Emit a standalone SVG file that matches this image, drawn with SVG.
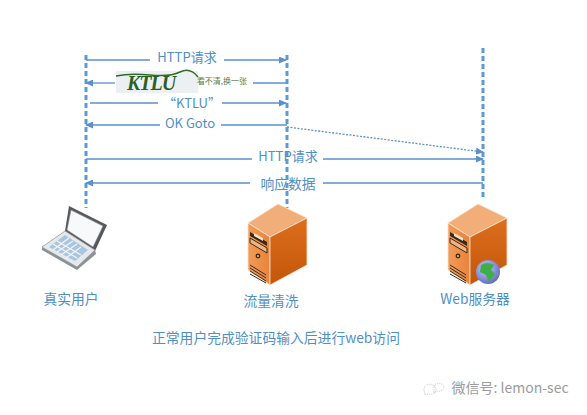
<svg xmlns="http://www.w3.org/2000/svg" width="587" height="415" viewBox="0 0 587 415">
<style>
text{font-family:"Noto Sans CJK SC","Liberation Sans",sans-serif;fill:#4f8fc4;font-size:13px;text-anchor:middle}
.big{font-size:13.8px}
.life{stroke:#5b9bd5;stroke-width:3;stroke-dasharray:5 3;fill:none}
.msg{stroke:#5b8fd0;stroke-width:1.3;fill:none}
.front{fill:url(#fr)}
.side{fill:url(#sd)}
.top{fill:#f2ae78;stroke:#fbe3cf;stroke-width:.8}
</style>
<defs>
<marker id="ah" markerWidth="8" markerHeight="7" refX="7" refY="3.5" orient="auto-start-reverse" markerUnits="userSpaceOnUse"><path d="M0 0L8 3.5L0 7Z" fill="#5b8fd0"/></marker>
<linearGradient id="fr" x1="0" y1="0" x2="1" y2="0"><stop offset="0" stop-color="#f29c58"/><stop offset="1" stop-color="#e8833a"/></linearGradient>
<linearGradient id="sd" x1="0" y1="0" x2="0" y2="1"><stop offset="0" stop-color="#dc6e1e"/><stop offset="1" stop-color="#c4560a"/></linearGradient>
<radialGradient id="gl" cx=".4" cy=".35" r=".7"><stop offset="0" stop-color="#c4cff8"/><stop offset="1" stop-color="#5f67bd"/></radialGradient>
<g id="tower">
<path class="top" d="M1 24L31 5L60 19L23 38Z"/>
<path class="front" d="M1 24L23 38V86L1 71Z" stroke="#fbe3cf" stroke-width=".8"/>
<path class="side" d="M23 38L60 19V66L23 86Z" stroke="#fbe3cf" stroke-width=".8"/>
<path d="M3 33L20 43V47L3 37Z" fill="#3a2a1c"/>
<path d="M7 34L16 39V42L7 37Z" fill="#f6e2cc"/>
<path d="M3 39L20 49V54L3 44Z" fill="#f3b27f" stroke="#3a2a1c" stroke-width="1"/>
<circle cx="11" cy="57" r="2.4" fill="#4a2c12"/>
<circle cx="11" cy="57" r="1" fill="#e9c46a"/>
<path d="M3 66L19 76M3 69L19 79M3 72L19 82M3 75L19 84" stroke="#3a2a1c" stroke-width="1" fill="none"/>
</g>
</defs>
<rect width="587" height="415" fill="#fff"/>
<g id="connectors">
<path class="life" d="M86 55V208"/>
<path class="life" d="M287 55V208"/>
<path class="life" d="M483 48V200"/>
<path class="msg" d="M86 60H150"/><path class="msg" d="M224 60H286" marker-end="url(#ah)"/>
<path class="msg" d="M115 83H86" marker-end="url(#ah)"/><path class="msg" d="M253 83H286"/>
<path class="msg" d="M90 103H158"/><path class="msg" d="M222 103H286" marker-end="url(#ah)"/>
<path class="msg" d="M160 125H86" marker-end="url(#ah)"/><path class="msg" d="M221 125H287"/>
<path class="msg" d="M287 127L483 152" stroke-dasharray="2 1.5" marker-end="url(#ah)"/>
<path class="msg" d="M86 159H252"/><path class="msg" d="M323 159H483" marker-end="url(#ah)"/>
<path class="msg" d="M250 183H86" marker-end="url(#ah)"/><path class="msg" d="M323 183H483"/>
</g>
<g id="labels">
<text x="187" y="62">HTTP请求</text>
<text x="192" y="108">“KTLU”</text>
<text x="190" y="128">OK Goto</text>
<text x="288" y="161">HTTP请求</text>
<text x="288" y="189" class="big">响应数据</text>
</g>
<g id="captcha">
<rect x="116" y="71" width="82" height="22" fill="#edf0f3"/>
<path d="M116 76Q130 73 150 75T180 72T198 77" stroke="#2f6b2a" stroke-width="1.4" fill="none"/>
<text x="151" y="90" style="font-family:'Liberation Serif',serif;font-style:italic;font-weight:bold;font-size:20px;fill:#2a5f25;letter-spacing:-1px">KTLU</text>
<text x="222" y="84" style="font-size:8px;fill:#5d7d3a">看不清,换一张</text>
</g>
<g id="user">
<path d="M42 250L77 270L96 254L95 250L77 266L42 247Z" fill="#8d9296"/>
<path d="M69 206L107 225L95 251L65 231Z" fill="#55595d"/>
<path d="M71 210L103 226L93 247L67 230Z" fill="#f7f9fb" stroke="#888" stroke-width=".6"/>
<path d="M42 247L65 231L95 250L77 267Z" fill="#e6e9ec" stroke="#8a8f93" stroke-width=".7"/>
<path d="M49 247L65 235L88 250L75 261Z" fill="#a9c6de"/>
<path d="M53 250L69 238M57 252L73 241M61 255L77 244M66 258L81 247M57 241L81 255M53 244L77 258" stroke="#f2f5f8" stroke-width="1.2"/>
<text x="71" y="304" class="big">真实用户</text>
</g>
<g id="scrubber">
<use href="#tower" x="247" y="199"/>
<text x="271" y="306" class="big">流量清洗</text>
</g>
<g id="web">
<use href="#tower" x="447" y="199"/>
<circle cx="488" cy="272" r="12" fill="url(#gl)"/>
<path d="M481 265Q487 261 494 265L491 270L495 274L489 282L486 275L480 272Z" fill="#3fae49"/>
<text x="475" y="304" class="big">Web服务器</text>
</g>
<text x="276" y="343" class="big">正常用户完成验证码输入后进行web访问</text>
<g id="watermark">
<path d="M424 390a6 5 0 1 1 4 4l-3 1z M434 386a5 4 0 1 1 3 5l-3 2z" fill="none" stroke="#b8b8b8" stroke-width=".8" stroke-dasharray="1 1"/>
<text x="510" y="393" style="font-size:14px;fill:#9c9c9c">微信号: lemon-sec</text>
</g>
</svg>
